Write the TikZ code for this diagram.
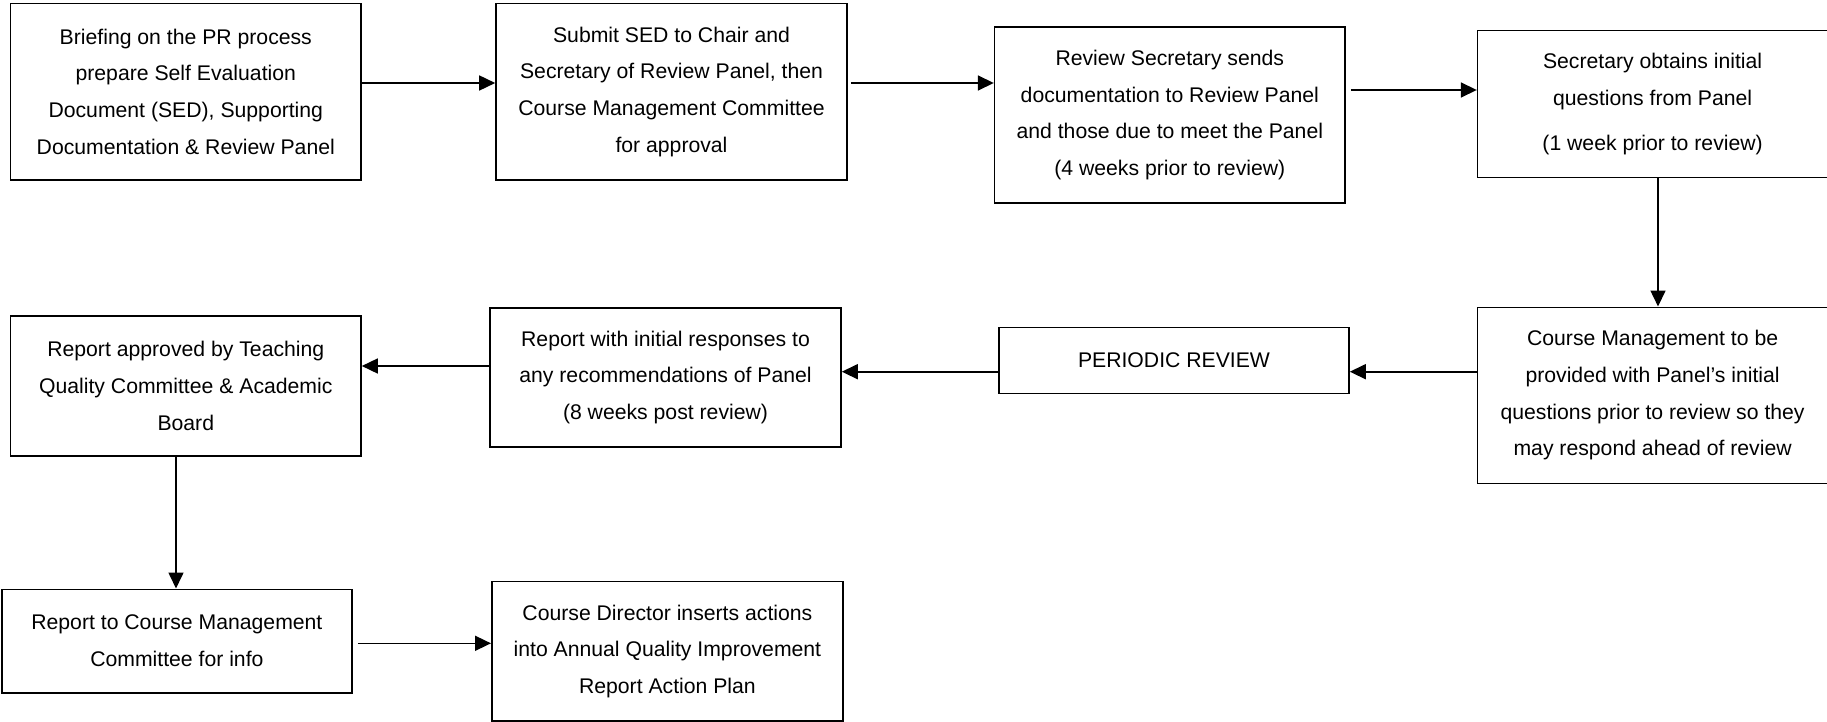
\documentclass[tikz,border=0pt]{standalone}
\usepackage{fontspec}
\setmainfont{Liberation Sans}
\usetikzlibrary{arrows.meta}
\begin{document}
\begin{tikzpicture}[x=1pt,y=1pt,
  box/.style={draw=black,line width=1.6pt,align=center,inner sep=0pt,
    font=\fontsize{21.2pt}{36.7pt}\selectfont},
  arr/.style={line width=1.6pt,-{Triangle[length=16pt,width=15pt]}}]
\useasboundingbox (0,0) rectangle (1827,-722);
\node[box,minimum width=350.4pt,minimum height=176.7pt] (b1) at (185.8,-91.7)
  {Briefing on the PR process\\prepare Self Evaluation\\Document (SED), Supporting\\Documentation \& Review Panel};
\node[box,minimum width=351pt,minimum height=176.7pt] (b2) at (671.5,-91.7)
  {Submit SED to Chair and\\Secretary of Review Panel, then\\Course Management Committee\\for approval};
\node[box,minimum width=350.4pt,minimum height=176.3pt] (b3) at (1169.8,-114.9)
  {Review Secretary sends\\documentation to Review Panel\\and those due to meet the Panel\\(4 weeks prior to review)};
\node[box,minimum width=350pt,minimum height=147pt] (b4) at (1652.6,-104.2)
  {Secretary obtains initial\\questions from Panel\\[8pt](1 week prior to review)};
\node[box,minimum width=350pt,minimum height=176pt] (b7) at (1652.6,-395.3)
  {Course Management to be\\provided with Panel’s initial\\questions prior to review so they\\may respond ahead of review};
\node[box,minimum width=350pt,minimum height=66pt] (pr) at (1174,-360.3)
  {PERIODIC REVIEW};
\node[box,minimum width=351pt,minimum height=139pt] (b6) at (665.5,-377.5)
  {Report with initial responses to\\any recommendations of Panel\\(8 weeks post review)};
\node[box,minimum width=350.4pt,minimum height=139.7pt] (b5) at (185.8,-385.9)
  {Report approved by Teaching\\Quality Committee \& Academic\\Board};
\node[box,minimum width=350.2pt,minimum height=103.4pt] (b8) at (176.9,-641)
  {Report to Course Management\\Committee for info};
\node[box,minimum width=351.2pt,minimum height=139.3pt] (b9) at (667.4,-651.3)
  {Course Director inserts actions\\into Annual Quality Improvement\\Report Action Plan};
\draw[arr] ([yshift=8.7pt]b1.east) -- ([yshift=8.7pt]b2.west);
\draw[arr] ([yshift=8.7pt,xshift=3pt]b2.east) -- ([yshift=31.9pt]b3.west);
\draw[arr] ([yshift=24.9pt,xshift=5pt]b3.east) -- ([yshift=14.2pt]b4.west);
\draw[arr] ([xshift=5.4pt]b4.south) -- ([xshift=5.4pt]b7.north);
\draw[arr] ([yshift=23.6pt]b7.west) -- ([yshift=-11.4pt]pr.east);
\draw[arr] ([yshift=-11.4pt]pr.west) -- ([yshift=5.8pt]b6.east);
\draw[arr] ([yshift=11.5pt]b6.west) -- ([yshift=19.9pt]b5.east);
\draw[arr] ([xshift=-9.8pt]b5.south) -- ([xshift=-0.9pt]b8.north);
\draw[arr] ([yshift=-2.3pt,xshift=5pt]b8.east) -- ([yshift=8pt]b9.west);
\end{tikzpicture}
\end{document}
